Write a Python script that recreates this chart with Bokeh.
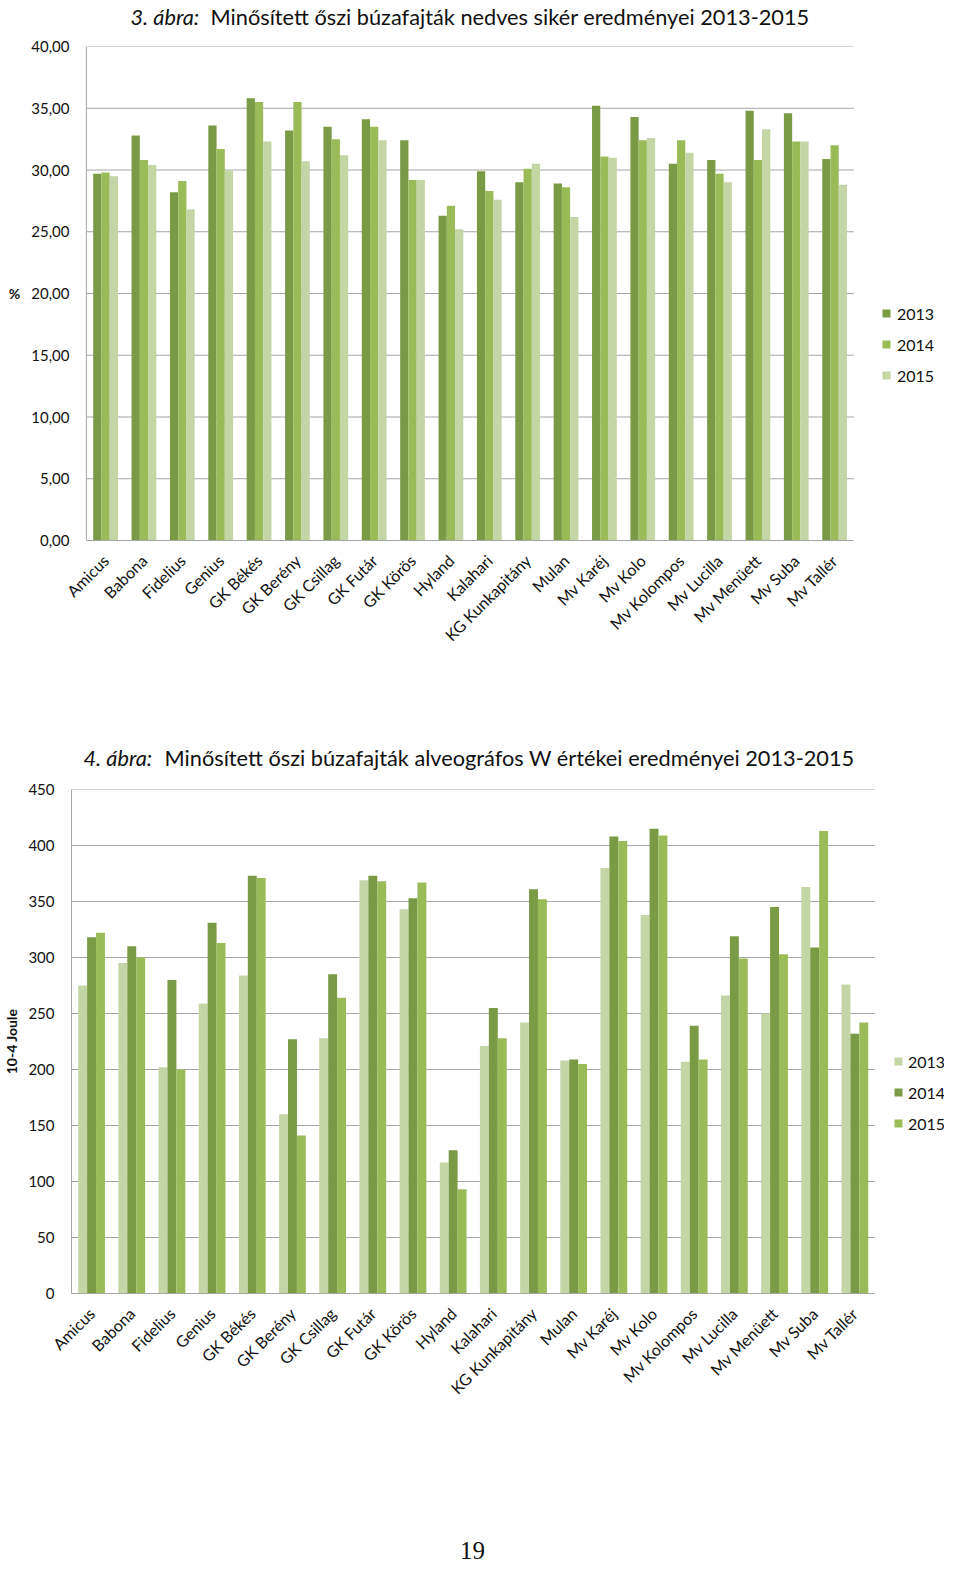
import math
from bokeh.plotting import figure
from bokeh.models import (ColumnDataSource, Range1d, FixedTicker, Legend, LegendItem, Label)
from bokeh.transform import dodge
from bokeh.layouts import column
from bokeh.embed import file_html
from bokeh.resources import INLINE

# ---------------- data ----------------
varieties = ["Amicus", "Babona", "Fidelius", "Genius", "GK Békés", "GK Berény",
             "GK Csillag", "GK Futár", "GK Körös", "Hyland", "Kalahari",
             "KG Kunkapitány", "Mulan", "Mv Karéj", "Mv Kolo", "Mv Kolompos",
             "Mv Lucilla", "Mv Menüett", "Mv Suba", "Mv Tallér"]
years = ["2013", "2014", "2015"]

# Figure 3: wet gluten (%)
gluten_2013 = [29.7, 32.8, 28.2, 33.6, 35.8, 33.2, 33.5, 34.1, 32.4, 26.3,
               29.9, 29.0, 28.9, 35.2, 34.3, 30.5, 30.8, 34.8, 34.6, 30.9]
gluten_2014 = [29.8, 30.8, 29.1, 31.7, 35.5, 35.5, 32.5, 33.5, 29.2, 27.1,
               28.3, 30.1, 28.6, 31.1, 32.4, 32.4, 29.7, 30.8, 32.3, 32.0]
gluten_2015 = [29.5, 30.4, 26.8, 30.0, 32.3, 30.7, 31.2, 32.4, 29.2, 25.2,
               27.6, 30.5, 26.2, 31.0, 32.6, 31.4, 29.0, 33.3, 32.3, 28.8]
gluten_ticks = [0, 5, 10, 15, 20, 25, 30, 35, 40]
gluten_tick_labels = ["0,00", "5,00", "10,00", "15,00", "20,00", "25,00",
                      "30,00", "35,00", "40,00"]

# Figure 4: alveograph W (10-4 Joule)
w_2013 = [275, 295, 202, 259, 284, 160, 228, 369, 343, 117,
          221, 242, 208, 380, 338, 207, 266, 250, 363, 276]
w_2014 = [318, 310, 280, 331, 373, 227, 285, 373, 353, 128,
          255, 361, 209, 408, 415, 239, 319, 345, 309, 232]
w_2015 = [322, 300, 200, 313, 371, 141, 264, 368, 367, 93,
          228, 352, 205, 404, 409, 209, 299, 303, 413, 242]
w_ticks = [0, 50, 100, 150, 200, 250, 300, 350, 400, 450]
w_tick_labels = ["0", "50", "100", "150", "200", "250", "300", "350", "400", "450"]

title3_italic = "3. ábra:"
title3_text = "Minősített őszi búzafajták nedves sikér eredményei 2013-2015"
title4_italic = "4. ábra:"
title4_text = "Minősített őszi búzafajták alveográfos W értékei eredményei 2013-2015"
ylabel3 = "%"
ylabel4 = "10-4 Joule"
page_number = "19"

# ---------------- style / layout ----------------
DARK = "#7A9A45"
MED = "#9BBB59"
LIGHT = "#C4D5A6"
GRID = "#A6A6A6"
FONT = "Lato"
TXT = "#111111"
TITLE_SIZE = "21.75px"
W = 944          # figure width (page width minus margins)
LB = 65          # common left border of every figure (frames are aligned)
FRAME_W = W - LB
N = len(varieties)
cat_pos = [i + 0.5 for i in range(N)]


def blank(height):
    p = figure(width=W, height=height, x_range=Range1d(0, 1), y_range=Range1d(0, 1),
               output_backend="svg", toolbar_location=None,
               x_axis_location=None, y_axis_location=None,
               min_border_left=LB, min_border_right=0, min_border_top=0, min_border_bottom=0)
    p.outline_line_color = None
    p.xgrid.grid_line_color = None
    p.ygrid.grid_line_color = None
    return p


def chart(height, mb_top, mb_bottom, cat_px, left_offset_px, ymax, ticks, tick_labels):
    x_start = -left_offset_px / cat_px
    x_end = x_start + FRAME_W / cat_px
    p = figure(width=W, height=height, x_range=Range1d(x_start, x_end),
               y_range=Range1d(0, ymax), output_backend="svg", toolbar_location=None,
               min_border_left=LB, min_border_right=0,
               min_border_top=mb_top, min_border_bottom=mb_bottom)
    p.outline_line_color = None
    p.xgrid.grid_line_color = None
    p.ygrid.grid_line_color = None
    p.yaxis.ticker = FixedTicker(ticks=ticks)
    p.yaxis.major_label_overrides = dict(zip(ticks, tick_labels))
    p.yaxis.bounds = (0, ymax)
    p.xaxis.ticker = FixedTicker(ticks=cat_pos)
    p.xaxis.major_label_overrides = dict(zip(cat_pos, varieties))
    p.xaxis.bounds = (0, N)
    for ax in (p.xaxis, p.yaxis):
        ax.axis_line_color = GRID
        ax.major_tick_line_color = None
        ax.minor_tick_line_color = None
        ax.major_tick_out = 0
        ax.minor_tick_out = 0
        ax.major_tick_in = 0
        ax.minor_tick_in = 0
        ax.major_label_text_font = FONT
        ax.major_label_text_color = TXT
    p.yaxis.major_label_text_font_size = "15px"
    p.xaxis.major_label_text_font_size = "16px"
    p.xaxis.major_label_orientation = math.pi / 4
    p.xaxis.major_label_standoff = 17
    p.yaxis.axis_label_text_font = FONT
    p.yaxis.axis_label_text_font_style = "bold"
    p.yaxis.axis_label_text_font_size = "14px"
    p.yaxis.axis_label_text_color = TXT
    # horizontal gridlines limited to the plot area
    p.segment(x0=[0] * len(ticks), x1=[N] * len(ticks), y0=ticks, y1=ticks,
              line_color=GRID, line_width=1)
    return p


def add_bars(p, series, colors, bw):
    src = ColumnDataSource(dict(x=cat_pos, a=series[0], b=series[1], c=series[2]))
    rs = []
    for off, key, col in zip((-bw, 0.0, bw), ("a", "b", "c"), colors):
        r = p.vbar(x=dodge("x", off), top=key, width=bw,
                   source=src, fill_color=col, line_color=None)
        rs.append(r)
    return rs


def add_legend(p, rs, loc, standoff):
    legend = Legend(items=[LegendItem(label=y, renderers=[r]) for y, r in zip(years, rs)],
                    location=loc, orientation="vertical", glyph_width=10, glyph_height=10,
                    label_standoff=standoff, spacing=11, padding=0, margin=0,
                    label_height=20, border_line_color=None, background_fill_alpha=0,
                    label_text_font=FONT, label_text_font_size="16px",
                    label_text_color=TXT)
    p.add_layout(legend)


def add_title(p, italic, text, x_it, x_txt, y):
    p.add_layout(Label(x=x_it, y=y, x_units="screen", y_units="screen", text=italic,
                       text_font=FONT, text_font_size=TITLE_SIZE, text_font_style="italic",
                       text_color=TXT, text_baseline="alphabetic", text_align="left"))
    p.add_layout(Label(x=x_txt, y=y, x_units="screen", y_units="screen", text=text,
                       text_font=FONT, text_font_size=TITLE_SIZE, text_color=TXT,
                       text_baseline="alphabetic", text_align="left"))


# ---------------- figure 3 ----------------
t1 = blank(30)
add_title(t1, title3_italic, title3_text, 59, 139, 14)

p1 = chart(662, 16, 152, 38.635, 15, 40, gluten_ticks, gluten_tick_labels)
p1.yaxis.axis_line_color = None
p1.yaxis.major_label_standoff = 2
p1.yaxis.axis_label = ylabel3
p1.yaxis.axis_label_orientation = "horizontal"
p1.yaxis.axis_label_standoff = 8
p1.segment(x0=[0], x1=[0], y0=[gluten_ticks[0]], y1=[gluten_ticks[-1]],
           line_color=GRID, line_width=1)
rs1 = add_bars(p1, (gluten_2013, gluten_2014, gluten_2015), (DARK, MED, LIGHT), 0.215)
add_legend(p1, rs1, (810, 155), 6)

# ---------------- figure 4 ----------------
t2 = blank(81)
add_title(t2, title4_italic, title4_text, 12, 93, 16)

p2 = chart(719, 16, 199, 40.45, 0, 450, w_ticks, w_tick_labels)
p2.yaxis.major_label_standoff = 17
p2.yaxis.axis_label = ylabel4
p2.yaxis.axis_label_standoff = 5
rs2 = add_bars(p2, (w_2013, w_2014, w_2015), (LIGHT, DARK, MED), 0.222)
add_legend(p2, rs2, (822, 160), 5)

# ---------------- page number ----------------
p3 = blank(84)
p3.add_layout(Label(x=401, y=26, x_units="screen", y_units="screen", text=page_number,
                    text_font="Liberation Serif", text_font_size="25px", text_color=TXT,
                    text_align="center", text_baseline="middle"))

layout = column(t1, p1, t2, p2, p3, spacing=0)
open("out.html", "w").write(file_html(layout, INLINE))
